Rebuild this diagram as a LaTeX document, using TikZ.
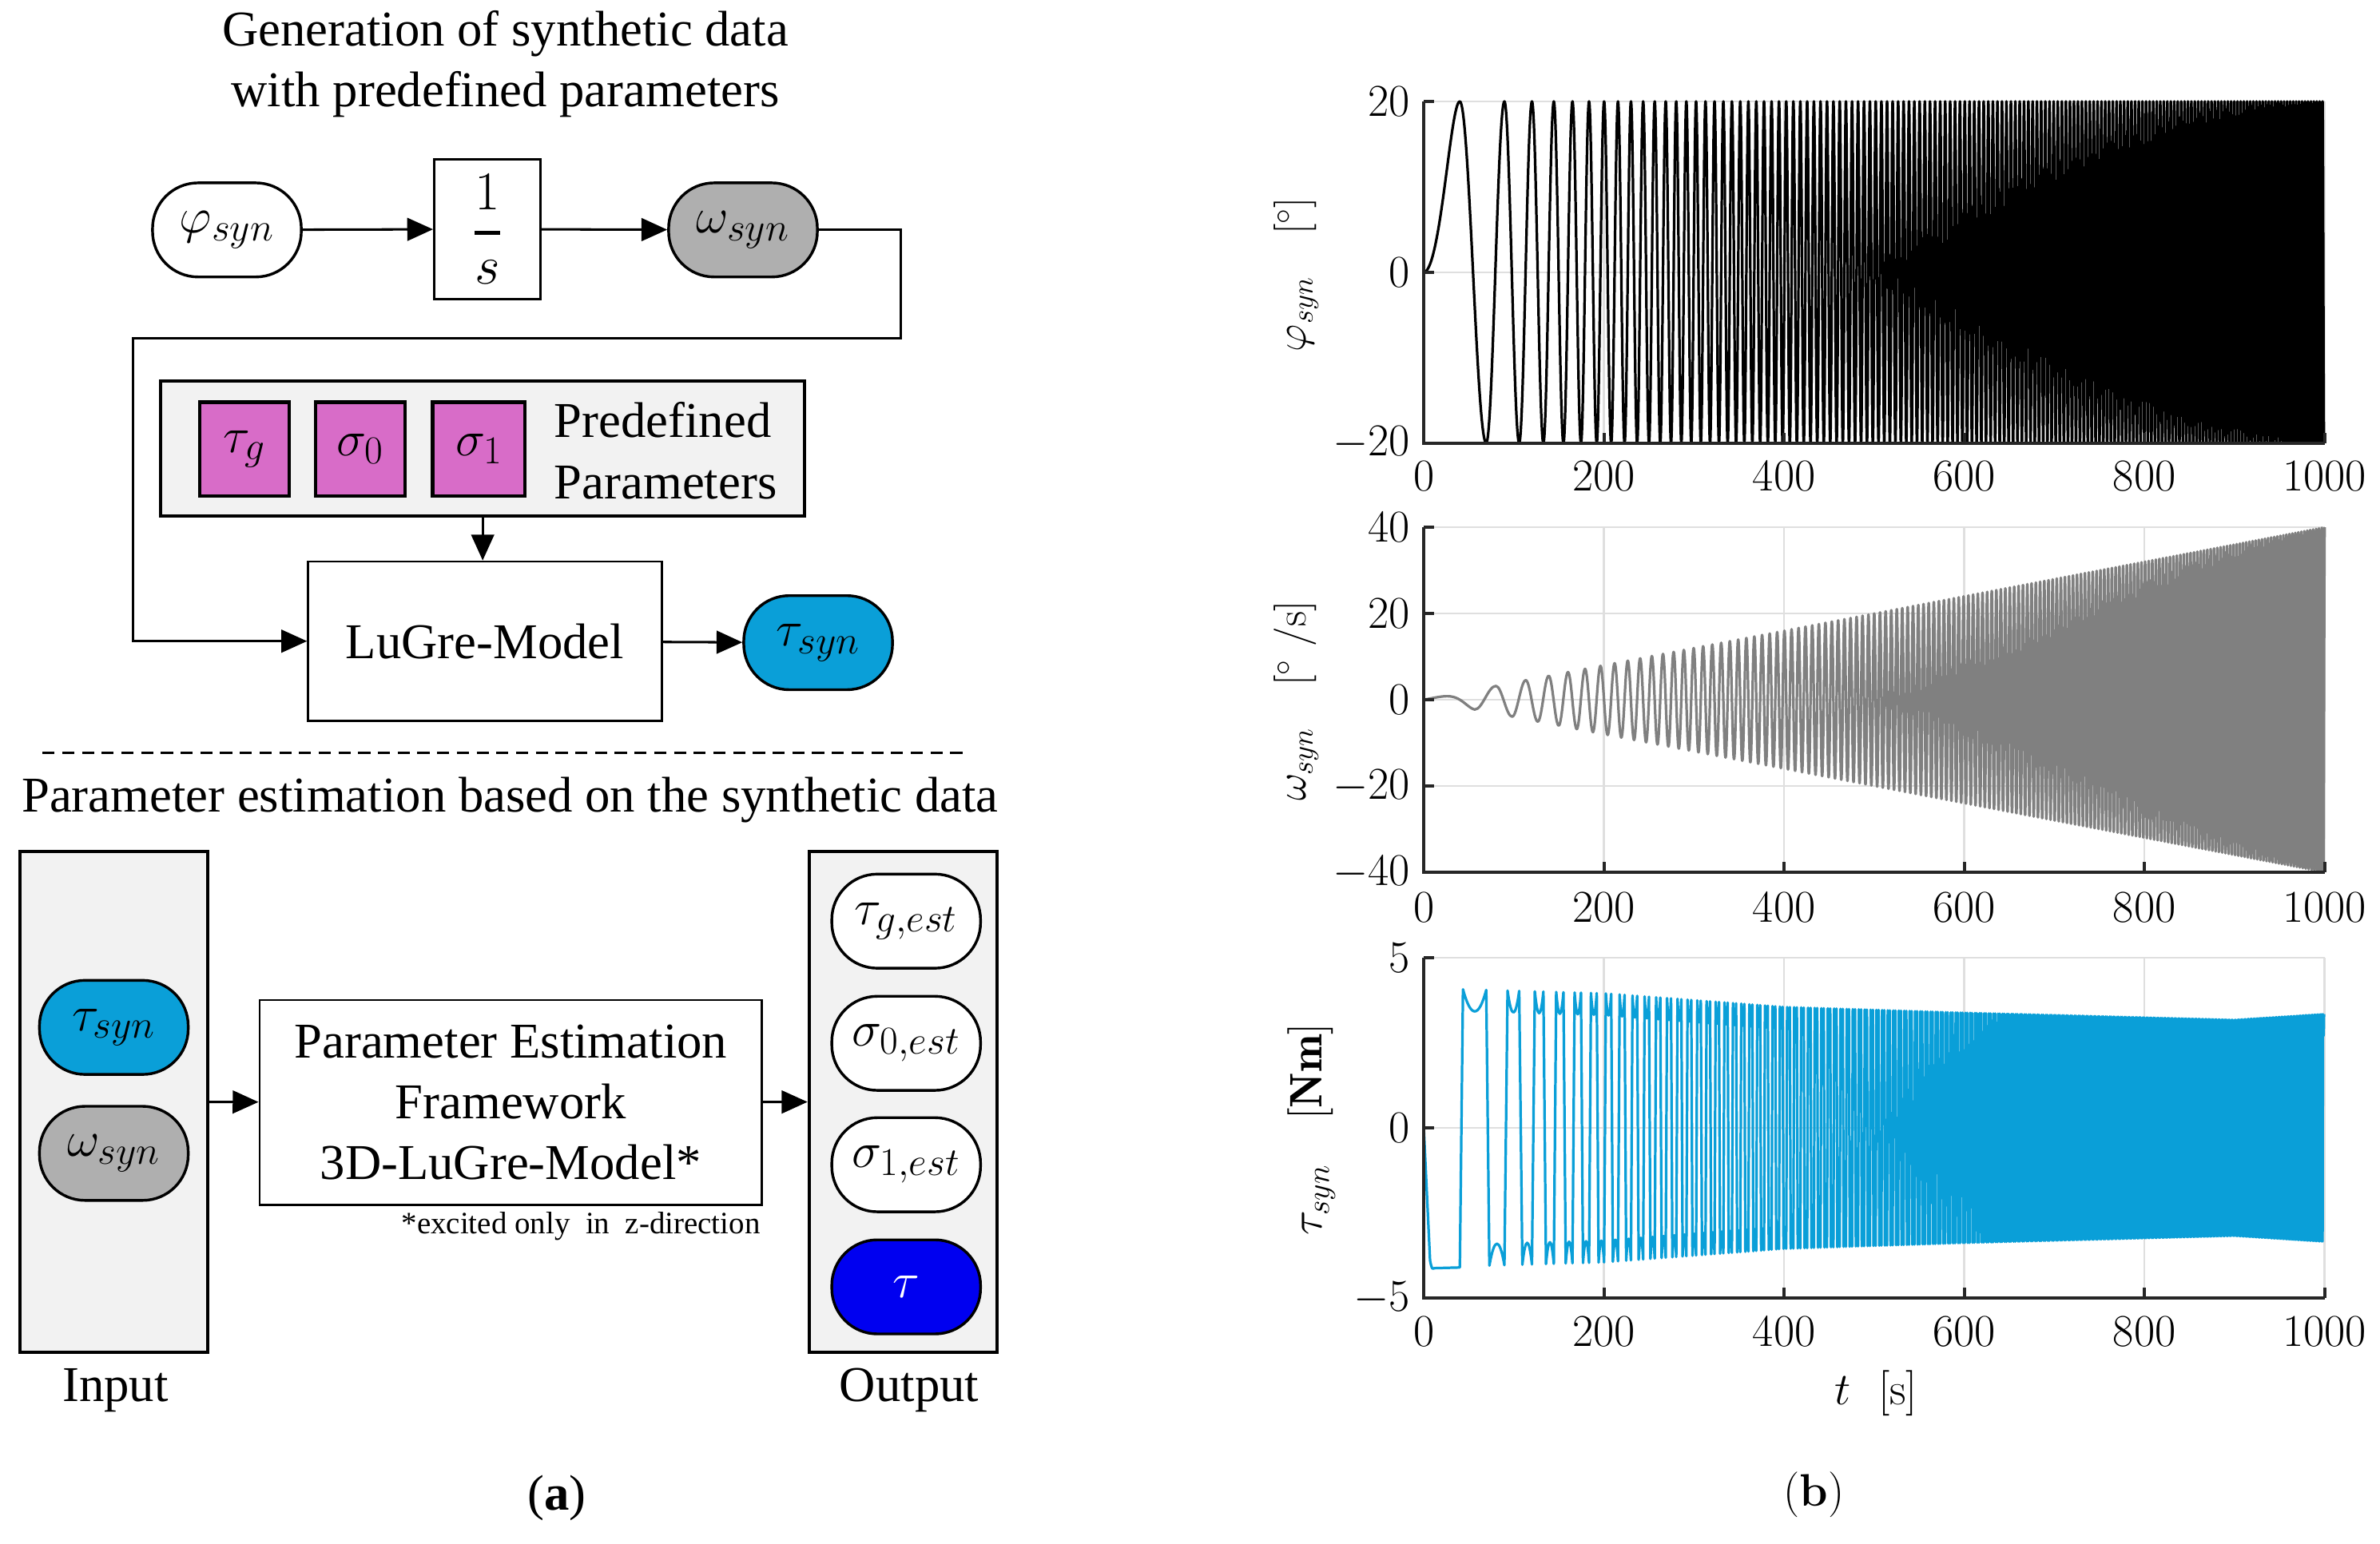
\documentclass[tikz,border=0pt]{standalone}
\usepackage{fix-cm}
\usepackage{amsmath}
\usepackage{fontspec}
\newfontfamily\timesf{Liberation Serif}
\DeclareMathSizes{33}{33}{26}{20}
\usetikzlibrary{arrows.meta}
\definecolor{magbox}{RGB}{216,108,200}
\definecolor{lgray}{RGB}{242,242,242}
\definecolor{stgray}{RGB}{175,175,175}
\definecolor{skyb}{RGB}{10,159,216}
\definecolor{deepb}{RGB}{0,0,240}
\definecolor{axc}{RGB}{38,38,38}
\definecolor{gridc}{RGB}{223,223,223}
\definecolor{omc}{RGB}{128,128,128}
\pgfmathdeclarefunction{lgP}{1}{%
  \pgfmathparse{#1<200 ? 4.1-0.00075*#1 : (#1<400 ? 3.95-0.002*(#1-200) : (#1<600 ? 3.55-0.00085*(#1-400) : (#1<900 ? 3.38-0.0007*(#1-600) : 3.17+0.0017*(#1-900))))}%
}
\tikzset{
  lt/.style={font=\timesf\fontsize{33}{40}\selectfont},
  stad/.style={draw, line width=1.8pt, rounded corners=30pt, minimum width=98pt, minimum height=62pt, inner sep=0pt, font=\fontsize{33}{40}\selectfont},
  plainbox/.style={draw, line width=1.4pt, inner sep=0pt},
  grpbox/.style={draw, line width=2pt, fill=lgray, inner sep=0pt},
  parbox/.style={draw, line width=2.2pt, fill=magbox, minimum width=59pt, minimum height=62pt, inner sep=0pt, font=\fontsize{33}{40}\selectfont},
  conn/.style={line width=1.6pt, -{Triangle[length=17pt,width=15pt]}},
  ticklab/.style={inner sep=0pt, font=\fontsize{30}{36}\selectfont},
  ylab/.style={inner sep=0pt, rotate=90, font=\fontsize{28}{34}\selectfont},
  gridl/.style={draw=gridc, line width=1.3pt},
  axl/.style={draw=axc, line width=2.2pt},
}
\begin{document}
\begin{tikzpicture}[x=1pt,y=-1pt]
\useasboundingbox (0,0) rectangle (1568,1017);
\fill[white] (0,0) rectangle (1568,1017);

% ---------- (a) upper part ----------
\node[lt, align=center] (t1) at (333,42) {Generation of synthetic data\\with predefined parameters};
\node[stad, fill=white] (phi) at (149.5,151.5) {$\varphi_{syn}$};
\node[plainbox, minimum width=70pt, minimum height=92pt, font=\fontsize{36}{44}\selectfont] (integ) at (321,151) {$\genfrac{}{}{2.6pt}{0}{1}{s}$};
\node[stad, fill=stgray] (om) at (489.5,151.5) {$\omega_{syn}$};
\node[grpbox, minimum width=424pt, minimum height=89pt] (pre) at (318,295.5) {};
\node[parbox] (ptg) at (161,296) {$\tau_g$};
\node[parbox] (ps0) at (237.5,296) {$\sigma_0$};
\node[parbox, minimum width=61pt] (ps1) at (315.5,296) {$\sigma_1$};
\node[align=left, anchor=west, inner sep=0pt, font=\timesf\fontsize{33}{41}\selectfont] (ptxt) at (365,297) {Predefined\\Parameters};
\node[plainbox, lt, minimum width=233pt, minimum height=105pt] (lug) at (319.5,422.5) {LuGre-Model};
\node[stad, fill=skyb] (tsy) at (539,423.5) {$\tau_{syn}$};
\coordinate (c1) at (593.6,223);
\coordinate (c2) at (87.5,223);
\draw[conn] (phi) -- (integ);
\draw[conn] (integ) -- (om);
\draw[conn] (om.east) -| (c1) -- (c2) |- (lug.west);
\draw[conn] (pre.south) -- (pre.south |- lug.north);
\draw[conn] (lug) -- (tsy);

% ---------- separator ----------
\coordinate (d1) at (28,496);
\coordinate (d2) at (637,496);
\draw[line width=1.3pt, dash pattern=on 8pt off 5pt] (d1) -- (d2);

% ---------- (a) lower part ----------
\node[lt] (t2) at (336,527) {Parameter estimation based on the synthetic data};
\node[grpbox, minimum width=124pt, minimum height=330pt] (inb) at (75,726) {};
\node[stad, fill=skyb] (tsy2) at (75,677) {$\tau_{syn}$};
\node[stad, fill=stgray] (om2) at (75,760) {$\omega_{syn}$};
\node[lt] (inl) at (76,916) {Input};
\node[plainbox, align=center, font=\timesf\fontsize{33}{40}\selectfont, minimum width=331pt, minimum height=135pt] (pe) at (336.5,726.5) {Parameter Estimation\\Framework\\3D-LuGre-Model*};
\node[font=\timesf\fontsize{20.5}{24}\selectfont, anchor=east, inner sep=0pt] (fn) at (501,808) {*excited only~ in~ z-direction};
\node[grpbox, minimum width=124pt, minimum height=330pt] (outb) at (595,726) {};
\node[stad, fill=white] (o1) at (597,607) {$\tau_{g,est}$};
\node[stad, fill=white] (o2) at (597,687.5) {$\sigma_{0,est}$};
\node[stad, fill=white] (o3) at (597,767.5) {$\sigma_{1,est}$};
\node[stad, fill=deepb, text=white] (o4) at (597,848) {$\tau$};
\node[lt] (outl) at (599,916) {Output};
\draw[conn] (inb) -- (pe);
\draw[conn] (pe) -- (outb);
\node[lt] (la) at (367,987) {(\textbf{a})};

% ---------- plot 1 ----------
\begin{scope}[shift={(938,179.4)}, xscale=0.5935, yscale=-5.63]
  \foreach \t in {200,400,600,800,1000} \draw[gridl] (\t,-20) -- (\t,20);
  \foreach \v in {0,20} \draw[gridl] (0,\v) -- (1000,\v);
  \draw[line width=1.7pt, black, line join=round]
    plot[domain=0:40.035, samples=30, smooth] (\x,{20*sin(0.05615*\x*\x)})
    \foreach \k [evaluate=\k as \ta using {56.62*sqrt(\k+0.5)},
                 evaluate=\k as \tb using {56.62*sqrt(\k+1.5)},
                 evaluate=\k as \sa using {20*(1-2*mod(\k,2))},
                 evaluate=\k as \sb using {-20*(1-2*mod(\k,2))}] in {0,...,310}
    { .. controls ({\ta+0.3642*(\tb-\ta)},\sa) and ({\tb-0.3642*(\tb-\ta)},\sb) .. (\tb,\sb) };
  \draw[axl] (0,20) -- (0,-20) -- (1000,-20);
  \foreach \v in {-20,0,20} \draw[axl] (0,\v) -- (11.8,\v);
  \foreach \t in {200,400,600,800,1000} \draw[axl] (\t,-20) -- (\t,-18.76);
\end{scope}

% ---------- plot 2 ----------
\begin{scope}[shift={(938,461.1)}, xscale=0.5935, yscale=-2.843]
  \foreach \t in {200,400,600,800,1000} \draw[gridl] (\t,-40) -- (\t,40);
  \foreach \v in {-20,0,20,40} \draw[gridl] (0,\v) -- (1000,\v);
  \draw[omc, line width=1.7pt, line join=round]
    plot[domain=0:56.62, samples=50, smooth] (\x,{0.04*\x*cos(0.05615*\x*\x)})
    \foreach \k [evaluate=\k as \ta using {56.62*sqrt(\k)},
                 evaluate=\k as \tb using {56.62*sqrt(\k+1)},
                 evaluate=\k as \ya using {0.04*\ta*(1-2*mod(\k,2))},
                 evaluate=\k as \yb using {-0.04*\tb*(1-2*mod(\k,2))}] in {1,...,311}
    { .. controls ({\ta+0.3642*(\tb-\ta)},\ya) and ({\tb-0.3642*(\tb-\ta)},\yb) .. (\tb,\yb) };
  \draw[axl] (0,40) -- (0,-40) -- (1000,-40);
  \foreach \v in {-40,-20,0,20,40} \draw[axl] (0,\v) -- (11.8,\v);
  \foreach \t in {200,400,600,800,1000} \draw[axl] (\t,-40) -- (\t,-37.54);
\end{scope}

% ---------- plot 3 ----------
\begin{scope}[shift={(938,743.2)}, xscale=0.5935, yscale=-22.44]
  \foreach \t in {200,400,600,800,1000} \draw[gridl] (\t,-5) -- (\t,5);
  \foreach \v in {0,5} \draw[gridl] (0,\v) -- (1000,\v);
  \draw[skyb, line width=1.7pt, line join=round]
    (0,0) -- (7,-3.9) .. controls (9,-4.15) .. (12,-4.12) -- (40.035,-4.1)
    \foreach \k [evaluate=\k as \ta using {56.62*sqrt(\k+0.5)},
                 evaluate=\k as \tb using {56.62*sqrt(\k+1.5)},
                 evaluate=\k as \rr using {min(3.5,0.25*(\tb-\ta))},
                 evaluate=\k as \xa using {\ta+\rr},
                 evaluate=\k as \sg using {1-2*mod(\k,2)},
                 evaluate=\k as \pa using {\sg*lgP(\xa)},
                 evaluate=\k as \pb using {\sg*lgP(\tb)},
                 evaluate=\k as \ca using {\sg*(lgP(\xa)-0.85)},
                 evaluate=\k as \cb using {\sg*(lgP(\tb)-0.85)},
                 evaluate=\k as \xc using {\xa+(\tb-\xa)/3},
                 evaluate=\k as \xd using {\tb-(\tb-\xa)/3}] in {0,...,310}
    { -- (\xa,\pa) .. controls (\xc,\ca) and (\xd,\cb) .. (\tb,\pb) };
  \draw[axl] (0,5) -- (0,-5) -- (1000,-5);
  \foreach \v in {-5,0,5} \draw[axl] (0,\v) -- (11.8,\v);
  \foreach \t in {200,400,600,800,1000} \draw[axl] (\t,-5) -- (\t,-4.69);
\end{scope}

% ---------- tick labels ----------
\foreach \t in {0,200,400,600,800,1000} {
  \node[ticklab] (ax\t) at ({938+0.5935*\t},313.6) {$\t$};
  \node[ticklab] (bx\t) at ({938+0.5935*\t},598) {$\t$};
  \node[ticklab] (cx\t) at ({938+0.5935*\t},877.6) {$\t$};
}
\node[ticklab, anchor=east] (ay1) at (929,66.7) {$20$};
\node[ticklab, anchor=east] (ay2) at (929,179.4) {$0$};
\node[ticklab, anchor=east] (ay3) at (929,292) {$-20$};
\node[ticklab, anchor=east] (by1) at (929,347.4) {$40$};
\node[ticklab, anchor=east] (by2) at (929,404.3) {$20$};
\node[ticklab, anchor=east] (by3) at (929,461.1) {$0$};
\node[ticklab, anchor=east] (by4) at (929,518) {$-20$};
\node[ticklab, anchor=east] (by5) at (929,574.8) {$-40$};
\node[ticklab, anchor=east] (cy1) at (929,631) {$5$};
\node[ticklab, anchor=east] (cy2) at (929,743.2) {$0$};
\node[ticklab, anchor=east] (cy3) at (929,855.4) {$-5$};

% ---------- axis labels ----------
\node[ylab] (ayl) at (854,181) {$\varphi_{syn}\quad[^\circ]$};
\node[ylab] (byl) at (854,462) {$\omega_{syn}\quad[^\circ\ /\mathrm{s}]$};
\node[ylab, font=\fontsize{30}{36}\selectfont] (cyl) at (864,744) {$\tau_{syn}\quad[\mathbf{Nm}]$};
\node[ticklab] (xl) at (1236,918) {$t\ \ [\mathrm{s}]$};
\node[ticklab] (lb) at (1195,985) {(\textbf{b})};
\end{tikzpicture}
\end{document}
